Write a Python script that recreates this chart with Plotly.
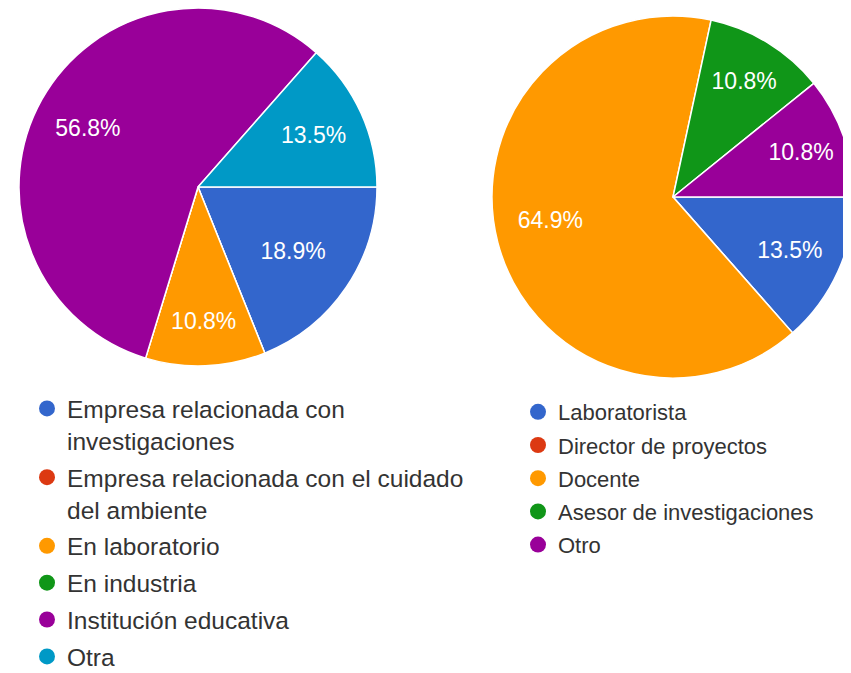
import plotly.graph_objects as go

# Left chart: workplace
left_labels = [
    "Empresa relacionada con<br>investigaciones",
    "Empresa relacionada con el cuidado<br>del ambiente",
    "En laboratorio",
    "En industria",
    "Institución educativa",
    "Otra",
]
left_values = [7, 0, 4, 0, 21, 5]
left_colors = ["#3366cc", "#dc3912", "#ff9900", "#109618", "#990099", "#0099c6"]

# Right chart: role
right_labels = [
    "Laboratorista",
    "Director de proyectos",
    "Docente",
    "Asesor de investigaciones",
    "Otro",
]
right_values = [5, 0, 24, 4, 4]
right_colors = ["#3366cc", "#dc3912", "#ff9900", "#109618", "#990099"]

FONT = "Arial, Liberation Sans, sans-serif"
W, H = 851, 673
NB = "\u00a0"
PCT = "%{percent:.1%}"

# label templates (padding nudges the big-slice labels outward, like the original)
left_tpl = [PCT, PCT, PCT, PCT, PCT + NB * 10 + "<br>" + NB, PCT]
right_tpl = [PCT, PCT, PCT + NB * 11, PCT, PCT]

fig = go.Figure()

def dom(x0, x1, y0, y1):
    return dict(x=[max(x0 / W, 0.0), min(x1 / W, 1.0)],
                y=[max(1 - y1 / H, 0.0), min(1 - y0 / H, 1.0)])

fig.add_trace(go.Pie(
    labels=left_labels, values=left_values, sort=False, direction="clockwise",
    rotation=90, marker=dict(colors=left_colors, line=dict(color="white", width=1.5)),
    texttemplate=left_tpl, textposition="inside",
    insidetextorientation="horizontal",
    textfont=dict(family=FONT, size=23, color="white"),
    domain=dom(11, 369, 0, 358), showlegend=False, hoverinfo="label+percent",
))
fig.add_trace(go.Pie(
    labels=right_labels, values=right_values, sort=False, direction="clockwise",
    rotation=90, marker=dict(colors=right_colors, line=dict(color="white", width=1.5)),
    texttemplate=right_tpl, textposition="inside",
    insidetextorientation="horizontal",
    textfont=dict(family=FONT, size=23, color="white"),
    domain=dom(484, 846, 8, 370), showlegend=False, hoverinfo="label+percent",
))

# Legend entries with circular markers
for i, (lab, col) in enumerate(zip(left_labels, left_colors)):
    fig.add_trace(go.Scatter(x=[None], y=[None], mode="markers", name=lab,
                             marker=dict(color=col, size=16, symbol="circle"),
                             legend="legend", legendgroup=f"l{i}", showlegend=True))
for i, (lab, col) in enumerate(zip(right_labels, right_colors)):
    fig.add_trace(go.Scatter(x=[None], y=[None], mode="markers", name=lab,
                             marker=dict(color=col, size=16, symbol="circle"),
                             legend="legend2", legendgroup=f"r{i}", showlegend=True))

fig.update_layout(
    width=W, height=H,
    margin=dict(l=0, r=0, t=0, b=0, autoexpand=False),
    paper_bgcolor="white", plot_bgcolor="white",
    xaxis=dict(visible=False), yaxis=dict(visible=False),
    legend=dict(x=19 / W, y=1 - 378 / H, xanchor="left", yanchor="top",
                font=dict(family=FONT, size=24.5, color="#333333"),
                traceorder="grouped", tracegroupgap=2, valign="top",
                itemsizing="trace", bgcolor="rgba(0,0,0,0)"),
    legend2=dict(x=510 / W, y=1 - 383 / H, xanchor="left", yanchor="top",
                 font=dict(family=FONT, size=22, color="#333333"),
                 traceorder="grouped", tracegroupgap=1.6, valign="top",
                 itemsizing="trace", bgcolor="rgba(0,0,0,0)"),
)

fig.write_html("out.html")
